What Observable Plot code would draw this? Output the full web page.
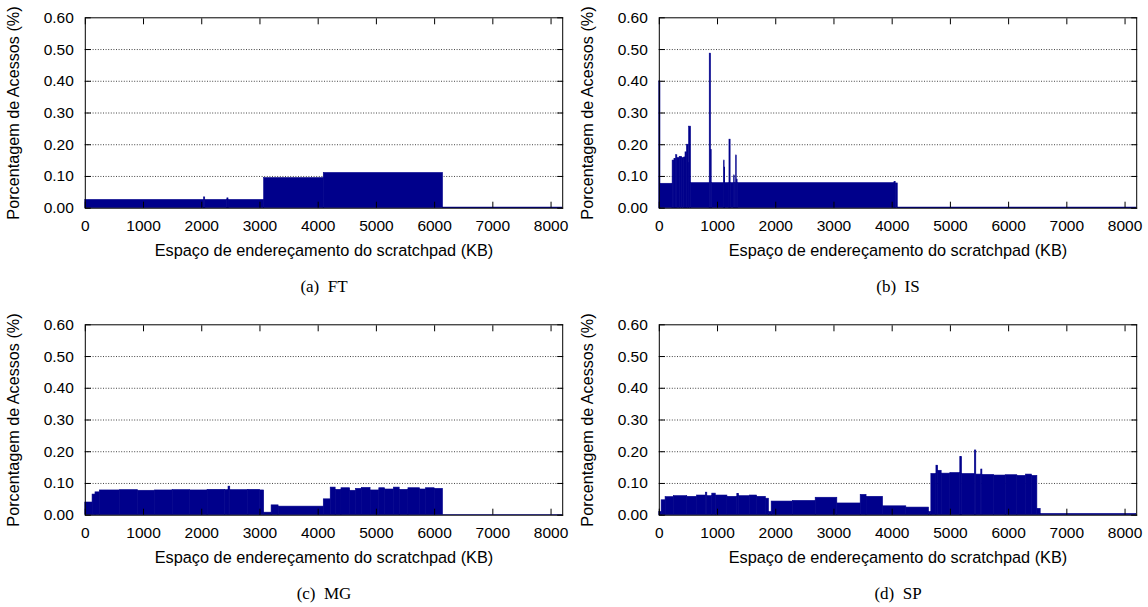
<!DOCTYPE html>
<html>
<head>
<meta charset="utf-8">
<script src="https://cdn.jsdelivr.net/npm/d3@7"></script>
<script src="https://cdn.jsdelivr.net/npm/@observablehq/plot@0.6"></script>
<style>
  body { margin: 0; background: #fff; }
  #wrap { position: relative; width: 1148px; height: 607px; overflow: hidden; }
  .panel { position: absolute; width: 574px; height: 300px; }
</style>
</head>
<body>
<div id="wrap"></div>
<script>
// ---- tick labels / texts ----
const xTicks = [0, 1000, 2000, 3000, 4000, 5000, 6000, 7000, 8000];
const yTicks = [0, 0.1, 0.2, 0.3, 0.4, 0.5, 0.6];
const gridLevels = [0.1, 0.2, 0.3, 0.4, 0.5];
const xLabel = "Espaço de endereçamento do scratchpad (KB)";
const yLabel = "Porcentagem de Acessos (%)";
const captions = ["(a)  FT", "(b)  IS", "(c)  MG", "(d)  SP"];

// ---- (a) FT: segment start addresses (KB) and access percentage ----
const ftEdges  = [0, 2040, 2060, 2440, 2460, 3072, 4096, 6144, 8192];
const ftValues = [0.026, 0.034, 0.026, 0.031, 0.026, 0.095, 0.111, 0.002];

// ---- (b) IS ----
const isEdges = [0, 20, 229, 260, 290, 310, 350, 390, 430, 450, 475, 505, 512, 545,
  866, 888, 900, 1112, 1122, 1132, 1205, 1225, 1285, 1295, 1320, 1330, 1345,
  4040, 4060, 4096, 8192];
const isValues = [0.40, 0.077, 0.150, 0.155, 0.167, 0.158, 0.162, 0.158, 0.160, 0.176, 0.200, 0.142, 0.257,
  0.079, 0.487, 0.183, 0.079, 0.150, 0.128, 0.079, 0.216, 0.079, 0.103, 0.079, 0.166, 0.090,
  0.079, 0.083, 0.078, 0.002];

// ---- (c) MG ----
const mgEdges = [0, 125, 175, 250, 600, 900, 1200, 1500, 1800, 2100, 2400, 2460, 2490, 2800, 3000,
  3072, 3200, 3320, 4096, 4215, 4300, 4400, 4550, 4650, 4750, 4900, 5050, 5150, 5300, 5400,
  5550, 5750, 5850, 6000, 6144, 8192];
const mgValues = [0.040, 0.065, 0.072, 0.078, 0.079, 0.077, 0.078, 0.079, 0.078, 0.080, 0.079, 0.090, 0.079, 0.080,
  0.078, 0.008, 0.031, 0.027, 0.050, 0.087, 0.080, 0.085, 0.077, 0.083, 0.086, 0.078, 0.085, 0.081, 0.087,
  0.080, 0.085, 0.081, 0.085, 0.083, 0.001];

// ---- (d) SP ----
const spEdges = [0, 40, 108, 250, 480, 650, 800, 825, 910, 970, 1170, 1340, 1370, 1560, 1680, 1830,
  1884, 1930, 2296, 2686, 3058, 3459, 3560, 3843, 4243, 4633, 4673, 4760, 4790, 4850, 5000,
  5170, 5200, 5420, 5445, 5530, 5550, 5750, 5950, 6150, 6300, 6400, 6494, 6551, 8192];
const spValues = [0.010, 0.047, 0.057, 0.060, 0.058, 0.062, 0.071, 0.060, 0.068, 0.062, 0.058, 0.067, 0.060, 0.062, 0.058,
  0.052, 0.010, 0.043, 0.045, 0.055, 0.037, 0.064, 0.058, 0.028, 0.024, 0.010, 0.130, 0.156, 0.140, 0.131,
  0.133, 0.183, 0.130, 0.204, 0.128, 0.144, 0.127, 0.125, 0.126, 0.124, 0.128, 0.124, 0.020, 0.004];

const navy = "#00008b";

function segments(edges, values) {
  return values.map((v, i) => ({x1: edges[i], x2: edges[i + 1], v}));
}

function panel(edges, values, caption) {
  const H = 300, top = 17.3, bottom = 207.7;
  return Plot.plot({
    width: 574,
    height: H,
    marginLeft: 84.8,
    marginRight: 11.8,
    marginTop: top,
    marginBottom: H - bottom,
    style: {fontFamily: "'Liberation Sans', Arial, sans-serif", fontSize: "15.5px", color: "#000", background: "transparent", overflow: "visible"},
    x: {domain: [0, 8200]},
    y: {domain: [0, 0.6]},
    marks: [
      Plot.ruleY(gridLevels, {stroke: "#444", strokeWidth: 1, strokeDasharray: "1,1.6"}),
      Plot.rect(segments(edges, values), {x1: "x1", x2: "x2", y1: 0, y2: "v", fill: navy, stroke: navy, strokeWidth: 0.6}),
      Plot.frame({stroke: "#000", strokeWidth: 1}),
      Plot.axisX({ticks: xTicks, anchor: "bottom", tickSize: -6, fill: "none", label: null}),
      Plot.axisX({ticks: xTicks, anchor: "top", tickSize: -6, fill: "none", label: null}),
      Plot.axisY({ticks: yTicks, anchor: "left", tickSize: -6, fill: "none", label: null}),
      Plot.axisY({ticks: yTicks, anchor: "right", tickSize: -6, fill: "none", label: null}),
      Plot.axisX({ticks: xTicks, anchor: "bottom", tickSize: 0, tickPadding: 11.4, label: null, tickFormat: d => String(d)}),
      Plot.axisY({ticks: yTicks, anchor: "left", tickSize: 0, tickPadding: 11.5, label: null, tickFormat: d => d.toFixed(2)}),
      Plot.text([xLabel], {frameAnchor: "bottom", dy: 36.5, lineAnchor: "top", fontSize: 16.3, fill: "#000"}),
      Plot.text([yLabel], {frameAnchor: "left", dx: -77.5, rotate: -90, lineAnchor: "top", textAnchor: "middle", fontSize: 16.2, fill: "#000"}),
      Plot.text([caption], {frameAnchor: "bottom", dy: 72, lineAnchor: "top", fontSize: 17, fontFamily: "'Liberation Serif', 'Times New Roman', serif", fill: "#000"})
    ]
  });
}

const wrap = document.getElementById("wrap");
const specs = [
  [ftEdges, ftValues, captions[0], 0, 0],
  [isEdges, isValues, captions[1], 574, 0],
  [mgEdges, mgValues, captions[2], 0, 307],
  [spEdges, spValues, captions[3], 574, 307]
];
for (const [e, v, c, left, top] of specs) {
  const div = document.createElement("div");
  div.className = "panel";
  div.style.left = left + "px";
  div.style.top = top + "px";
  div.appendChild(panel(e, v, c));
  wrap.appendChild(div);
}
</script>
</body>
</html>
